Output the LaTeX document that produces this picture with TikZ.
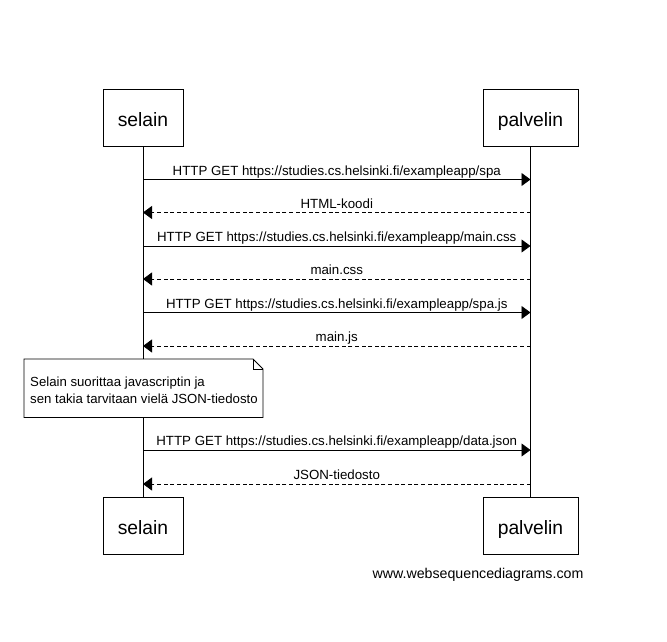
\documentclass[tikz,border=0pt]{standalone}
\usepackage{fontspec}
\setmainfont{Liberation Sans}
\usetikzlibrary{arrows.meta}
\begin{document}
\begin{tikzpicture}[x=1pt,y=-1pt,
  actor/.style={draw,line width=0.9pt,minimum width=80pt,minimum height=57pt,inner sep=0pt,
    font=\fontsize{19.3}{22}\selectfont,text height=17pt,text depth=0pt},
  lifeline/.style={line width=0.9pt},
  req/.style={line width=0.9pt,-{Triangle[length=9pt,width=13pt]}},
  resp/.style={line width=0.9pt,dash pattern=on 4pt off 2.6pt,-{Triangle[length=9pt,width=13pt]}},
  msglabel/.style={font=\fontsize{13.3}{15}\selectfont,anchor=base,inner sep=0pt},
  notetext/.style={font=\fontsize{13.2}{17}\selectfont,anchor=base west,inner sep=0pt}]
\useasboundingbox (0,0) rectangle (667,642);
\fill[white] (0,0) rectangle (667,642);

% participants, top and bottom
\node[actor] (st) at (143,117.5) {selain};
\node[actor,minimum width=95pt] (pt) at (530.5,117.5) {palvelin};
\node[actor] (sb) at (143,525.5) {selain};
\node[actor,minimum width=95pt] (pb) at (530.5,525.5) {palvelin};

% lifelines
\draw[lifeline] (st.south) -- (sb.north);
\draw[lifeline] (pt.south) -- (pb.north);

% message anchor points on the lifelines
\foreach \n/\y in {1/179.5,2/212.5,3/246,4/279,5/312.5,6/346,7/450,8/484}{
  \coordinate (s\n) at (143,\y);
  \coordinate (p\n) at (530.5,\y);
}

\draw[req]  (s1) -- (p1) node[msglabel,pos=0.5,yshift=4.5pt] (m1) {HTTP GET https://studies.cs.helsinki.fi/exampleapp/spa};
\draw[resp] (p2) -- (s2) node[msglabel,pos=0.5,yshift=4.5pt] (m2) {HTML-koodi};
\draw[req]  (s3) -- (p3) node[msglabel,pos=0.5,yshift=4.5pt] (m3) {HTTP GET https://studies.cs.helsinki.fi/exampleapp/main.css};
\draw[resp] (p4) -- (s4) node[msglabel,pos=0.5,yshift=4.5pt] (m4) {main.css};
\draw[req]  (s5) -- (p5) node[msglabel,pos=0.5,yshift=4.5pt] (m5) {HTTP GET https://studies.cs.helsinki.fi/exampleapp/spa.js};
\draw[resp] (p6) -- (s6) node[msglabel,pos=0.5,yshift=4.5pt] (m6) {main.js};
\draw[req]  (s7) -- (p7) node[msglabel,pos=0.5,yshift=4.5pt] (m7) {HTTP GET https://studies.cs.helsinki.fi/exampleapp/data.json};
\draw[resp] (p8) -- (s8) node[msglabel,pos=0.5,yshift=4.5pt] (m8) {JSON-tiedosto};

% note with folded corner
\filldraw[fill=white,line width=0.9pt] (24,359) -- (253,359) -- (263,369) -- (263,417.5) -- (24,417.5) -- cycle;
\draw[line width=0.9pt] (253,359) -- (253,369) -- (263,369);
\node[notetext] (n1) at (30,386) {Selain suorittaa javascriptin ja};
\node[notetext] (n2) at (30,403) {sen takia tarvitaan vielä JSON-tiedosto};

% footer
\node[font=\fontsize{14.2}{16}\selectfont,anchor=base,inner sep=0pt] (wm) at (478,578) {www.websequencediagrams.com};
\end{tikzpicture}
\end{document}
